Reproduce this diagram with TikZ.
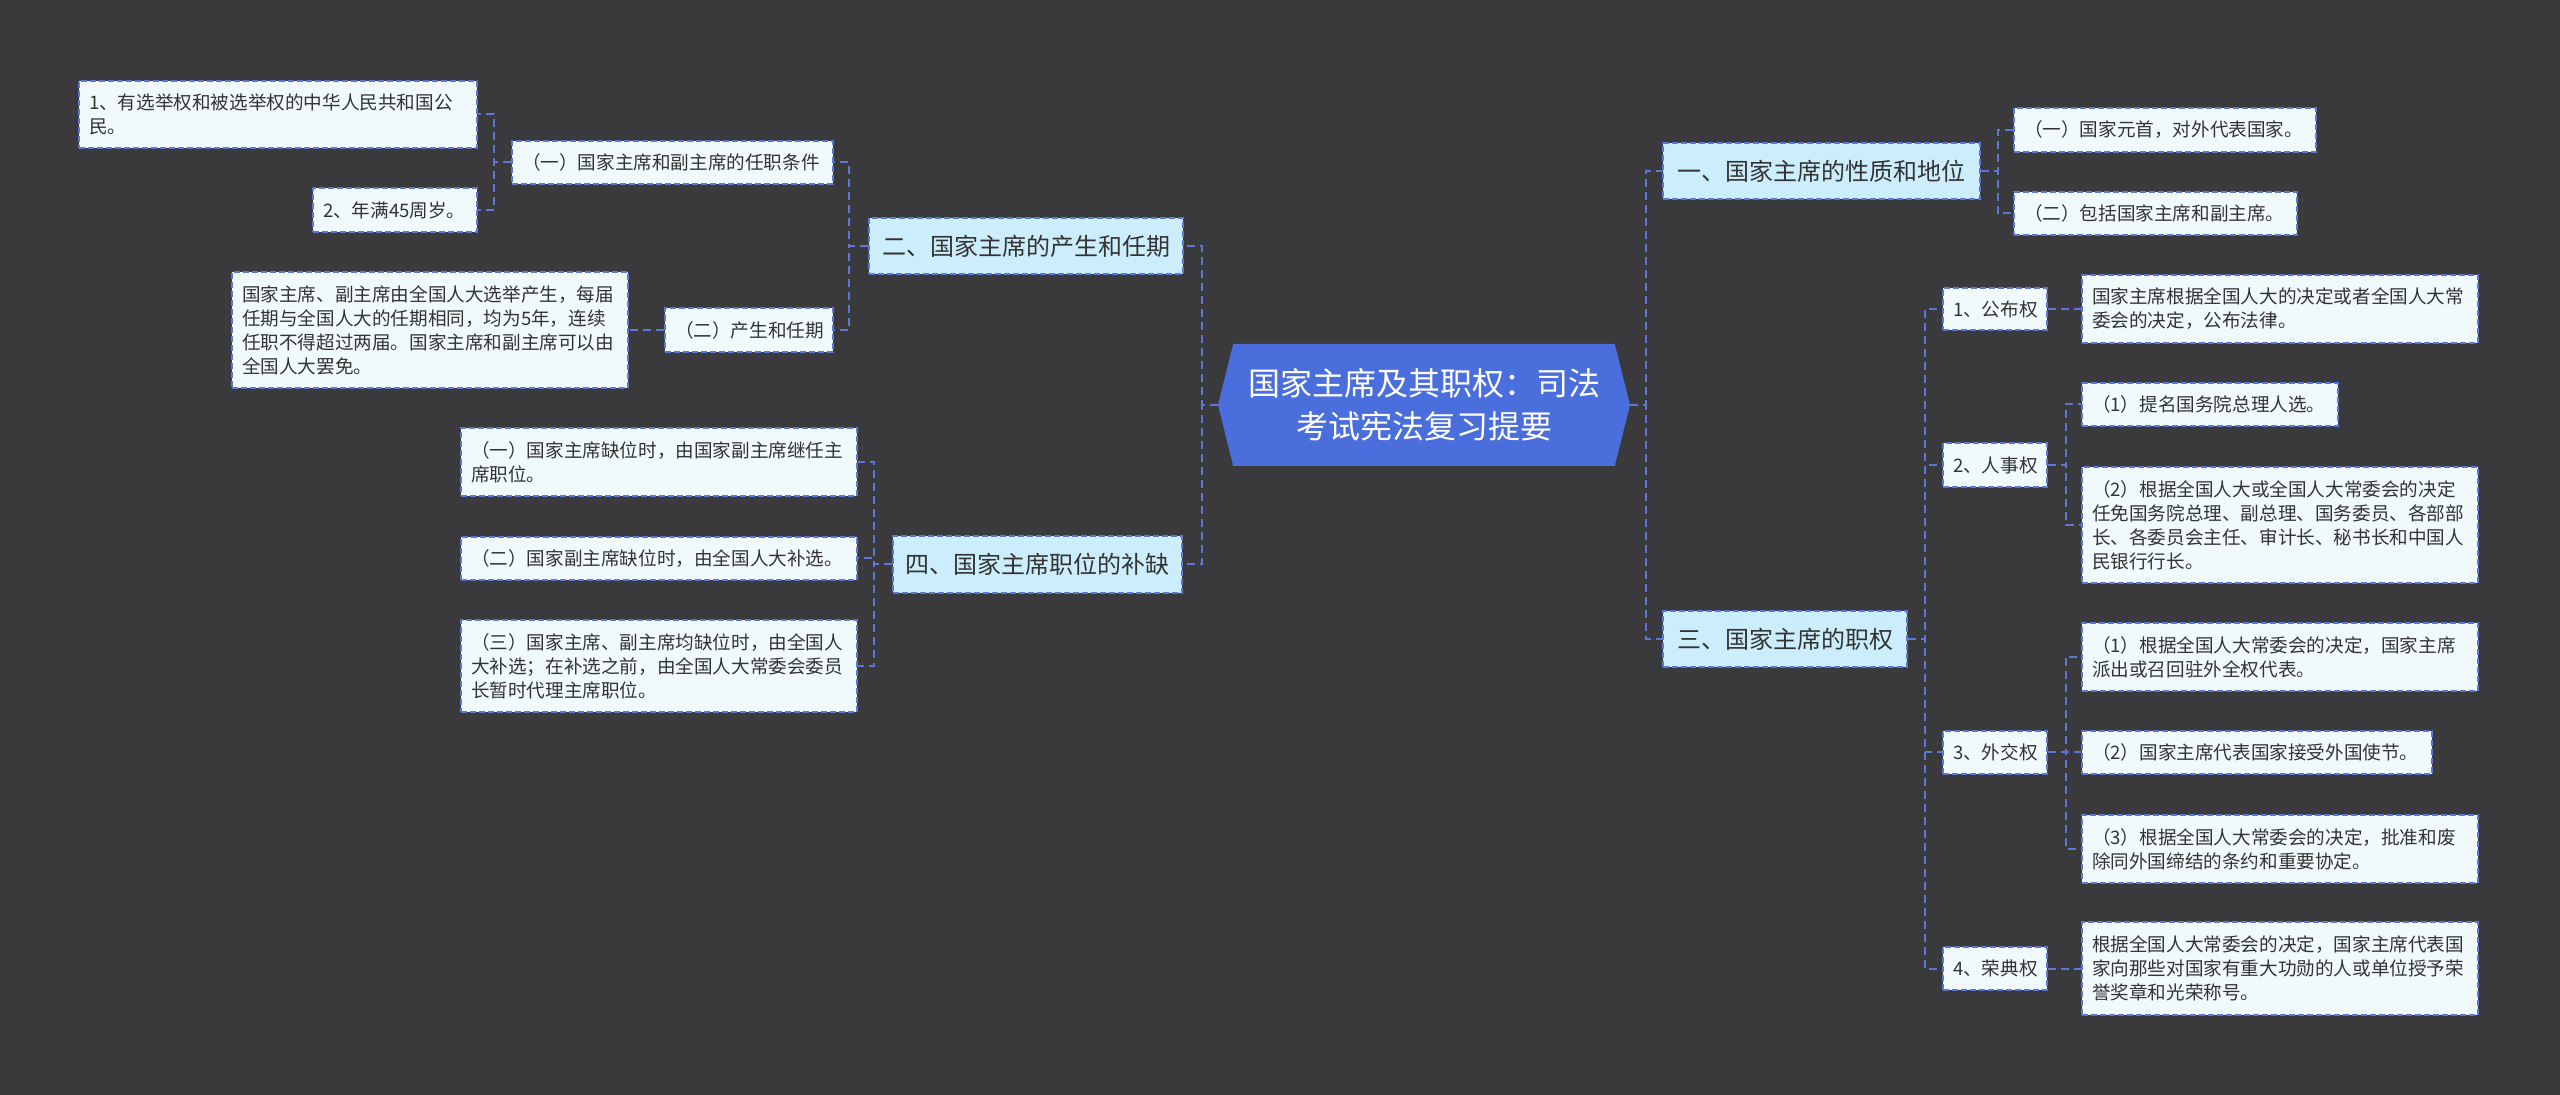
\documentclass[tikz,border=0pt]{standalone}
\usepackage{fontspec}
\setmainfont{Noto Sans CJK SC}
\usepackage{tikz}
\usetikzlibrary{shapes.symbols}

\definecolor{bgdark}{HTML}{3A393B}
\definecolor{rootblue}{HTML}{4A6EDC}
\definecolor{topicfill}{HTML}{CCEEFC}
\definecolor{leaffill}{HTML}{F0FAFD}
\definecolor{linkblue}{HTML}{5B78D6}
\definecolor{textdark}{HTML}{333333}

\tikzset{
  link/.style={linkblue, line width=1pt, dash pattern=on 4pt off 2.5pt},
  root/.style={signal, signal to=east and west, signal pointer angle=152, fill=rootblue, text=white,
    align=center, font=\fontsize{16}{21.5}\selectfont, minimum width=206pt, minimum height=61pt, inner sep=0pt},
  topic/.style={draw=linkblue, line width=0.9pt, dash pattern=on 3pt off 1.5pt, fill=topicfill,
    text=textdark, font=\fontsize{12}{15}\selectfont, inner sep=0pt},
  leaf/.style={draw=linkblue, line width=0.8pt, dash pattern=on 3pt off 1.5pt, fill=leaffill,
    text=textdark, font=\fontsize{9.3}{12}\selectfont, align=left, inner xsep=5pt, inner ysep=0pt},
}

\begin{document}
\begin{tikzpicture}[x=0.5pt, y=-0.5pt]
  % canvas
  \fill[bgdark] (0,0) rectangle (2560,1095);
  \useasboundingbox (0,0) rectangle (2560,1095);
  % centre
  \node[root] (root) at (1424,405) {国家主席及其职权：司法\\考试宪法复习提要};
  % main topics
  \node[topic, minimum width=158.5pt, minimum height=28pt] (pos) at (1821.5,171) {一、国家主席的性质和地位};
  \node[topic, minimum width=157pt, minimum height=28pt] (term) at (1026,246) {二、国家主席的产生和任期};
  \node[topic, minimum width=122pt, minimum height=28pt] (power) at (1785,639) {三、国家主席的职权};
  \node[topic, minimum width=144.5pt, minimum height=28.5pt] (vacancy) at (1037.5,564.5) {四、国家主席职位的补缺};
  % left: election and term
  \node[leaf, text width=150.5pt, minimum height=21.5pt] (cond) at (672.5,162.5) {（一）国家主席和副主席的任职条件};
  \node[leaf, text width=74pt, minimum height=22pt] (elect) at (749,330) {（二）产生和任期};
  \node[leaf, text width=189pt, minimum height=33.5pt] (citizen) at (278,114.5) {1、有选举权和被选举权的中华人民共和国公\\民。};
  \node[leaf, text width=72pt, minimum height=22pt] (age) at (395,210) {2、年满45周岁。};
  \node[leaf, text width=188pt, minimum height=58pt] (electtxt) at (430,330) {国家主席、副主席由全国人大选举产生，每届\\任期与全国人大的任期相同，均为5年，连续\\任职不得超过两届。国家主席和副主席可以由\\全国人大罢免。};
  % left: vacancy
  \node[leaf, text width=188pt, minimum height=34pt] (vac1) at (659,462) {（一）国家主席缺位时，由国家副主席继任主\\席职位。};
  \node[leaf, text width=188pt, minimum height=21.5pt] (vac2) at (659,558.5) {（二）国家副主席缺位时，由全国人大补选。};
  \node[leaf, text width=188pt, minimum height=46pt] (vac3) at (659,666) {（三）国家主席、副主席均缺位时，由全国人\\大补选；在补选之前，由全国人大常委会委员\\长暂时代理主席职位。};
  % right: position
  \node[leaf, text width=141pt, minimum height=22pt] (head) at (2165,130) {（一）国家元首，对外代表国家。};
  \node[leaf, text width=131.5pt, minimum height=21.5pt] (both) at (2155.5,213.5) {（二）包括国家主席和副主席。};
  % right: powers
  \node[leaf, text width=42pt, minimum height=21pt] (promul) at (1995,309) {1、公布权};
  \node[leaf, text width=42pt, minimum height=22pt] (appoint) at (1995,465) {2、人事权};
  \node[leaf, text width=42pt, minimum height=21.5pt] (foreign) at (1995,752.5) {3、外交权};
  \node[leaf, text width=42pt, minimum height=21.5pt] (honour) at (1995,968.5) {4、荣典权};
  \node[leaf, text width=188pt, minimum height=34pt] (promultxt) at (2280,309) {国家主席根据全国人大的决定或者全国人大常\\委会的决定，公布法律。};
  \node[leaf, text width=118pt, minimum height=21.5pt] (appoint1) at (2210,404.5) {（1）提名国务院总理人选。};
  \node[leaf, text width=188pt, minimum height=58pt] (appoint2) at (2280,525) {（2）根据全国人大或全国人大常委会的决定\\任免国务院总理、副总理、国务委员、各部部\\长、各委员会主任、审计长、秘书长和中国人\\民银行行长。};
  \node[leaf, text width=188pt, minimum height=34pt] (foreign1) at (2280,657) {（1）根据全国人大常委会的决定，国家主席\\派出或召回驻外全权代表。};
  \node[leaf, text width=165pt, minimum height=21.5pt] (foreign2) at (2257,752.5) {（2）国家主席代表国家接受外国使节。};
  \node[leaf, text width=188pt, minimum height=34pt] (foreign3) at (2280,849) {（3）根据全国人大常委会的决定，批准和废\\除同外国缔结的条约和重要协定。};
  \node[leaf, text width=188pt, minimum height=46.5pt] (honourtxt) at (2280,968.5) {根据全国人大常委会的决定，国家主席代表国\\家向那些对国家有重大功勋的人或单位授予荣\\誉奖章和光荣称号。};
  % links, left side
  \draw[link] (root.west) -- ++(-16,0) |- (term.east) (root.west) -- ++(-16,0) |- (vacancy.east);
  \draw[link] (term.west) -- ++(-19,0) |- (cond.east) (term.west) -- ++(-19,0) |- (elect.east);
  \draw[link] (cond.west) -- ++(-17,0) |- (citizen.east) (cond.west) -- ++(-17,0) |- (age.east);
  \draw[link] (elect.west) -- (electtxt.east);
  \draw[link] (vacancy.west) -- ++(-18,0) |- (vac1.east) (vacancy.west) -- ++(-18,0) |- (vac2.east)
        (vacancy.west) -- ++(-18,0) |- (vac3.east);
  % links, right side
  \draw[link] (root.east) -- ++(16,0) |- (pos.west) (root.east) -- ++(16,0) |- (power.west);
  \draw[link] (pos.east) -- ++(17,0) |- (head.west) (pos.east) -- ++(17,0) |- (both.west);
  \draw[link] (power.east) -- ++(17,0) |- (promul.west) (power.east) -- ++(17,0) |- (appoint.west)
        (power.east) -- ++(17,0) |- (foreign.west) (power.east) -- ++(17,0) |- (honour.west);
  \draw[link] (promul.east) -- (promultxt.west);
  \draw[link] (appoint.east) -- ++(18,0) |- (appoint1.west) (appoint.east) -- ++(18,0) |- (appoint2.west);
  \draw[link] (foreign.east) -- ++(18,0) |- (foreign1.west) (foreign.east) -- ++(18,0) |- (foreign2.west)
        (foreign.east) -- ++(18,0) |- (foreign3.west);
  \draw[link] (honour.east) -- (honourtxt.west);
\end{tikzpicture}
\end{document}
